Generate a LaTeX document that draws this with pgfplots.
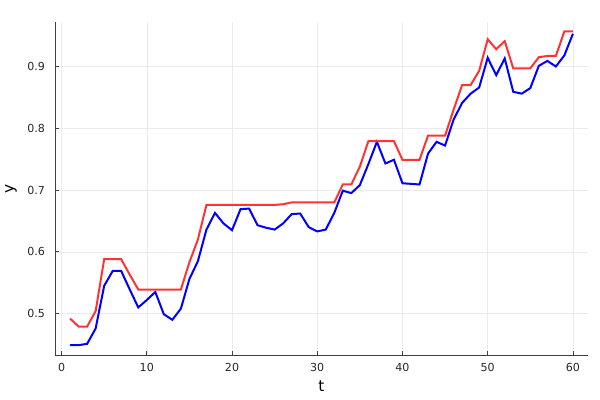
\documentclass[border=0pt]{standalone}
\usepackage{pgfplots}
\usepackage{pgfplotstable}
\pgfplotsset{compat=1.18}
\usepackage{fontspec}
\setmainfont{DejaVu Sans}
\definecolor{lineblue}{RGB}{0,0,255}
\definecolor{linered}{RGB}{255,51,51}

\pgfplotstableread{
t  blue   red
1  0.449  0.492
2  0.449  0.479
3  0.451  0.479
4  0.476  0.504
5  0.545  0.588
6  0.569  0.588
7  0.569  0.588
8  0.539  0.563
9  0.510  0.539
10 0.522  0.539
11 0.535  0.539
12 0.499  0.539
13 0.490  0.539
14 0.508  0.539
15 0.556  0.583
16 0.585  0.620
17 0.636  0.676
18 0.663  0.676
19 0.646  0.676
20 0.635  0.676
21 0.669  0.676
22 0.670  0.676
23 0.643  0.676
24 0.639  0.676
25 0.636  0.676
26 0.646  0.677
27 0.661  0.680
28 0.662  0.680
29 0.640  0.680
30 0.633  0.680
31 0.636  0.680
32 0.663  0.680
33 0.699  0.709
34 0.695  0.709
35 0.708  0.738
36 0.742  0.779
37 0.778  0.779
38 0.743  0.779
39 0.749  0.779
40 0.711  0.749
41 0.710  0.749
42 0.709  0.749
43 0.759  0.788
44 0.778  0.788
45 0.772  0.788
46 0.814  0.830
47 0.841  0.870
48 0.856  0.870
49 0.866  0.893
50 0.914  0.944
51 0.886  0.928
52 0.913  0.941
53 0.859  0.897
54 0.856  0.897
55 0.865  0.897
56 0.901  0.915
57 0.909  0.917
58 0.900  0.917
59 0.918  0.957
60 0.953  0.957
}\data

\begin{document}
\begin{tikzpicture}
\useasboundingbox (-41.25pt,-33.75pt) rectangle (408.75pt,266.25pt);
\begin{axis}[
    at={(0,0)}, anchor=south west,
    scale only axis,
    width=399.75pt, height=249.75pt,
    xmin=-0.77, xmax=61.77,
    ymin=0.433, ymax=0.972,
    axis lines*=left,
    axis line style={black!75, line width=0.6pt},
    xtick={0,10,20,30,40,50,60},
    ytick={0.5,0.6,0.7,0.8,0.9},
    tick align=inside,
    major tick length=3pt,
    tick style={black!75, line width=0.5pt},
    grid=major,
    grid style={black!8, line width=0.4pt},
    /pgf/number format/assume math mode=true,
    yticklabel style={/pgf/number format/fixed, /pgf/number format/precision=1,
        /pgf/number format/fixed zerofill, xshift=-4pt},
    xticklabel style={yshift=-3pt},
    tick label style={font=\fontsize{8.3}{10}\selectfont, text=black!85},
    label style={font=\fontsize{11.5}{13}\selectfont},
    xlabel={t},
    ylabel={y},
    xlabel style={at={(axis description cs:0.5,0)}, anchor=north, yshift=-16pt},
    ylabel style={at={(axis description cs:0,0.5)}, anchor=center, yshift=33pt},
]
\addplot[color=lineblue, line width=1.5pt] table[x=t, y=blue] {\data};
\addplot[color=linered, line width=1.5pt] table[x=t, y=red] {\data};
\end{axis}
\end{tikzpicture}
\end{document}
